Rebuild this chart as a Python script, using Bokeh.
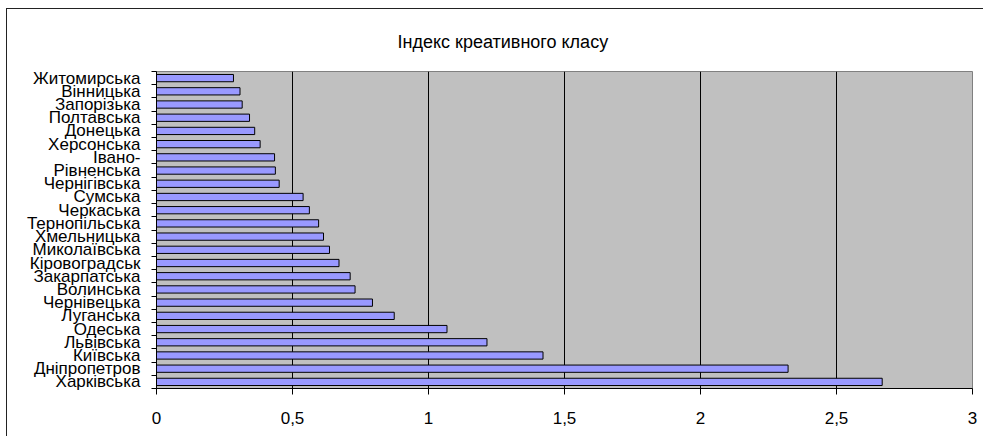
import numpy as np
from bokeh.plotting import figure
from bokeh.models import Range1d, FixedTicker, ColumnDataSource
from bokeh.embed import file_html
from bokeh.resources import INLINE

# Data (top to bottom as shown in the chart)
regions = ["Житомирська", "Вінницька", "Запорізька", "Полтавська", "Донецька",
           "Херсонська", "Івано-", "Рівненська", "Чернігівська", "Сумська",
           "Черкаська", "Тернопільська", "Хмельницька", "Миколаївська",
           "Кіровоградськ", "Закарпатська", "Волинська", "Чернівецька",
           "Луганська", "Одеська", "Львівська", "Київська", "Дніпропетров",
           "Харківська"]
index_values = [0.283, 0.307, 0.315, 0.342, 0.361, 0.381, 0.434, 0.437, 0.451,
                0.539, 0.562, 0.596, 0.614, 0.636, 0.671, 0.712, 0.730, 0.794,
                0.874, 1.068, 1.215, 1.421, 2.322, 2.668]
x_ticks = [0, 0.5, 1, 1.5, 2, 2.5, 3]
x_tick_labels = ["0", "0,5", "1", "1,5", "2", "2,5", "3"]
title_text = "Індекс креативного класу"

FONT = "Liberation Sans"
n = len(regions)
pos = [float(n - i - 0.5) for i in range(n)]
src = ColumnDataSource(dict(y=pos, v=index_values, name=regions))

p = figure(width=977, height=428, x_range=Range1d(0, 3), y_range=Range1d(0, n),
           output_backend="svg", toolbar_location=None,
           min_border_left=149, min_border_right=12, min_border_top=61,
           min_border_bottom=49, background_fill_color="#C0C0C0",
           border_fill_color="white")

p.styles = {"margin-left": "6px", "margin-top": "8px",
            "border-left": "1px solid #222222", "border-top": "1px solid #222222"}

p.hbar(y="y", right="v", left=0, height=0.55, source=src,
       fill_color="#9999FF", line_color="#000000", line_width=1)

# Title
p.title.text = title_text
p.title.align = "left"
p.title.offset = 241
p.title.vertical_align = "bottom"
p.title.text_font = FONT
p.title.text_font_size = "18px"
p.title.text_font_style = "normal"
p.title.text_color = "#000000"
p.title.standoff = 40

# Frame
p.outline_line_color = "#808080"
p.outline_line_width = 1

# X axis
xa = p.xaxis[0]
xa.ticker = FixedTicker(ticks=x_ticks, minor_ticks=[])
xa.major_label_overrides = dict(zip(x_ticks, x_tick_labels))
xa.axis_line_color = "#000000"
xa.major_tick_line_color = "#000000"
xa.major_tick_out = 6
xa.major_tick_in = 0
xa.major_label_standoff = 17
xa.major_label_text_font = FONT
xa.major_label_text_font_size = "17px"
xa.major_label_text_color = "#000000"

# Y axis: labels at category centres, ticks at category boundaries
ya = p.yaxis[0]
ya.ticker = FixedTicker(ticks=pos, minor_ticks=list(range(n + 1)))
ya.major_label_overrides = {pv: nm for pv, nm in zip(pos, regions)}
ya.axis_line_color = "#000000"
ya.major_tick_out = 0
ya.major_tick_in = 0
ya.minor_tick_out = 5
ya.minor_tick_in = 0
ya.minor_tick_line_color = "#000000"
ya.major_label_standoff = 11
ya.major_label_text_font = FONT
ya.major_label_text_font_size = "17px"
ya.major_label_text_color = "#000000"

# Grid
p.xgrid.ticker = FixedTicker(ticks=x_ticks[1:-1], minor_ticks=[])
p.xgrid.grid_line_color = "#000000"
p.xgrid.grid_line_width = 1
p.ygrid.visible = False

open("out.html", "w").write(file_html(p, INLINE))
